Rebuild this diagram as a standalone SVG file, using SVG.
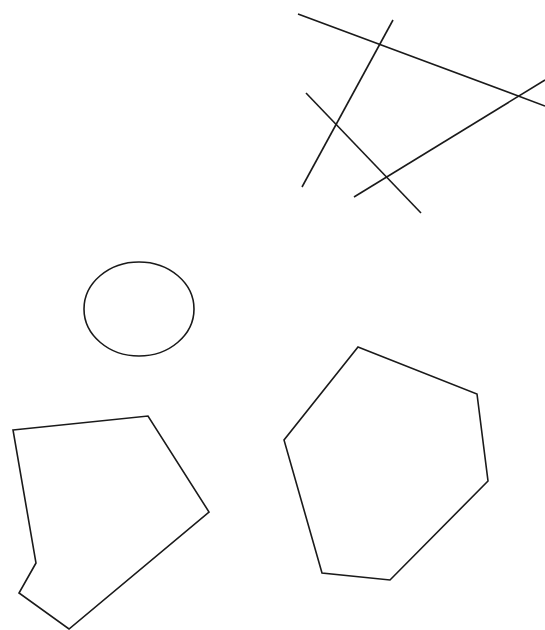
<svg xmlns="http://www.w3.org/2000/svg" width="545" height="630" viewBox="0 0 545 630">
<style>
.s{fill:none;stroke:#1a1a1a;stroke-width:1.6;stroke-linejoin:miter}
</style>
<rect width="545" height="630" fill="#fff"/>
<g id="lines">
<line class="s" x1="298" y1="14" x2="545" y2="106"/>
<line class="s" x1="393" y1="20" x2="302" y2="187"/>
<line class="s" x1="306" y1="93" x2="421" y2="213"/>
<line class="s" x1="354" y1="197" x2="545" y2="80"/>
</g>
<g id="circle">
<ellipse class="s" cx="139" cy="309" rx="55" ry="47"/>
</g>
<g id="pentagon">
<polygon class="s" points="13,430 148,416 209,512 69,629 19,593 36,563"/>
</g>
<g id="hexagon">
<polygon class="s" points="358,347 477,394 488,481 390,580 322,573 284,440"/>
</g>
</svg>
